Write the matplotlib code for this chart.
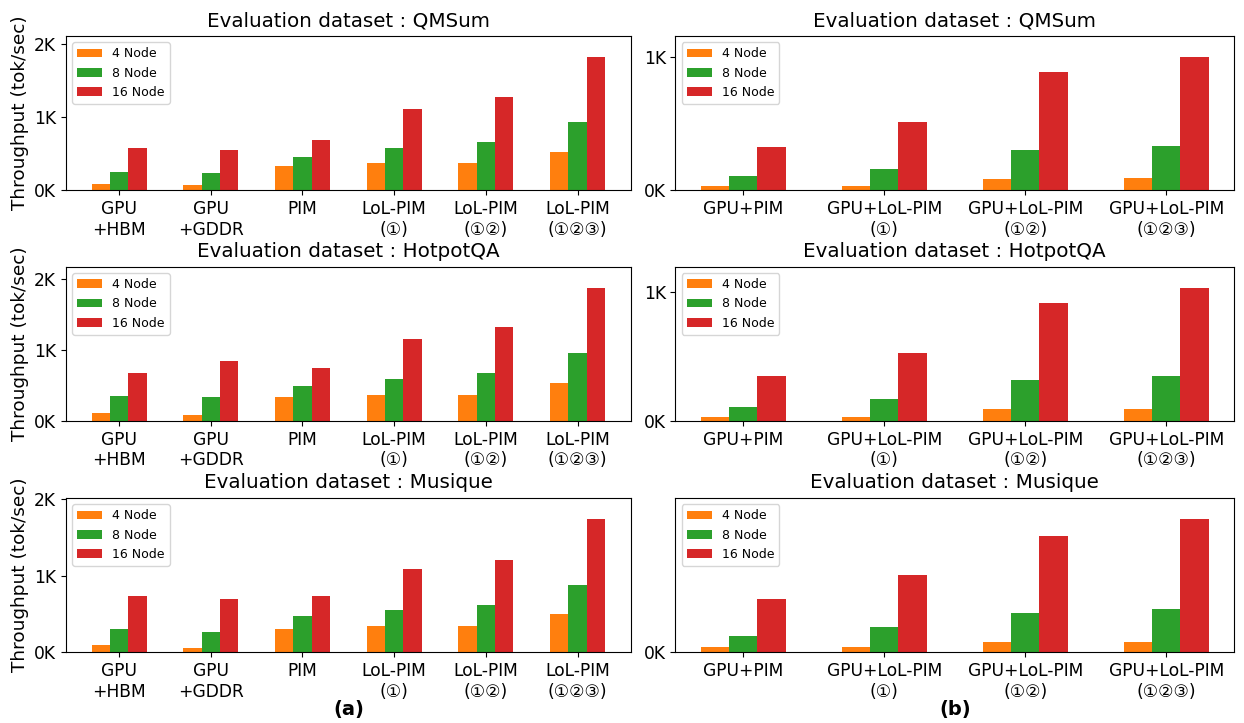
import numpy as np
import matplotlib
matplotlib.use("Agg")
import matplotlib.pyplot as plt
from matplotlib.ticker import MultipleLocator, FuncFormatter

plt.rcParams["font.family"] = ["DejaVu Sans", "Noto Sans CJK JP"]

datasets = ["QMSum", "HotpotQA", "Musique"]
series_names = ["4 Node", "8 Node", "16 Node"]
colors = ["#ff7f0e", "#2ca02c", "#d62728"]

# (a) left column
left_labels = ["GPU\n+HBM", "GPU\n+GDDR", "PIM", "LoL-PIM\n(①)", "LoL-PIM\n(①②)", "LoL-PIM\n(①②③)"]
qmsum_a_4 = [87, 64, 330, 367, 367, 523]
qmsum_a_8 = [252, 239, 459, 573, 656, 936]
qmsum_a_16 = [569, 555, 683, 1106, 1271, 1815]
hotpot_a_4 = [104, 80, 329, 367, 367, 527]
hotpot_a_8 = [353, 329, 485, 588, 673, 955]
hotpot_a_16 = [668, 847, 739, 1153, 1318, 1873]
musique_a_4 = [88, 53, 302, 346, 346, 499]
musique_a_8 = [298, 258, 477, 556, 613, 884]
musique_a_16 = [731, 691, 731, 1090, 1208, 1737]

# (b) right column
right_labels = ["GPU+PIM", "GPU+LoL-PIM\n(①)", "GPU+LoL-PIM\n(①②)", "GPU+LoL-PIM\n(①②③)"]
qmsum_b_4 = [30, 30, 83, 88]
qmsum_b_8 = [106, 161, 305, 335]
qmsum_b_16 = [327, 516, 887, 1000]
hotpot_b_4 = [28, 31, 88, 93]
hotpot_b_8 = [106, 166, 319, 350]
hotpot_b_16 = [345, 523, 915, 1031]
musique_b_4 = [30, 30, 62, 66]
musique_b_8 = [105, 158, 253, 274]
musique_b_16 = [338, 495, 743, 850]

left_data = [
    [qmsum_a_4, qmsum_a_8, qmsum_a_16],
    [hotpot_a_4, hotpot_a_8, hotpot_a_16],
    [musique_a_4, musique_a_8, musique_a_16],
]
right_data = [
    [qmsum_b_4, qmsum_b_8, qmsum_b_16],
    [hotpot_b_4, hotpot_b_8, hotpot_b_16],
    [musique_b_4, musique_b_8, musique_b_16],
]

fig = plt.figure(figsize=(12.44, 7.23), dpi=100)

row_bottoms = [0.737, 0.418, 0.098]
row_h = 0.213
col_left = [(0.053, 0.454), (0.543, 0.449)]

kfmt = FuncFormatter(lambda v, p: f"{int(round(v / 1000))}K")


def draw(ax, labels, data, title):
    x = np.arange(len(labels))
    w = 0.2
    for i, (vals, name, c) in enumerate(zip(data, series_names, colors)):
        ax.bar(x + (i - 1) * w, vals, w, color=c, label=name)
    ax.set_xticks(x)
    ax.set_xticklabels(labels, fontsize=12.3)
    ax.yaxis.set_major_locator(MultipleLocator(1000))
    ax.yaxis.set_major_formatter(kfmt)
    ax.tick_params(axis="y", labelsize=12.3)
    top = max(max(v) for v in data) * 1.159
    ax.set_ylim(0, top)
    ax.set_title("Evaluation dataset : " + title, fontsize=14.3, pad=7)
    ax.legend(loc="upper left", fontsize=9, handlelength=2.0)


for r in range(3):
    (l0, w0), (l1, w1) = col_left
    axl = fig.add_axes([l0, row_bottoms[r], w0, row_h])
    draw(axl, left_labels, left_data[r], datasets[r])
    axl.set_ylabel("Throughput (tok/sec)", fontsize=13.3)
    axr = fig.add_axes([l1, row_bottoms[r], w1, row_h])
    draw(axr, right_labels, right_data[r], datasets[r])

fig.text(0.053 + 0.454 / 2, 0.018, "(a)", ha="center", va="center", fontsize=14, fontweight="bold")
fig.text(0.543 + 0.449 / 2, 0.018, "(b)", ha="center", va="center", fontsize=14, fontweight="bold")

fig.savefig("out.png", dpi=100)
